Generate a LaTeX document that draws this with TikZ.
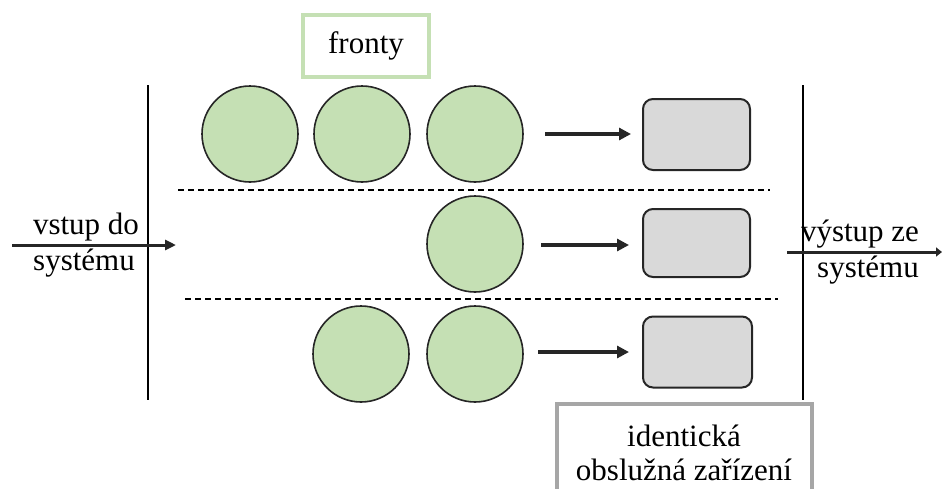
\documentclass[tikz,border=0pt]{standalone}
\usepackage{fontspec}
\setmainfont{Liberation Serif}
\usetikzlibrary{arrows.meta}
\definecolor{qgreen}{HTML}{C5E0B4}
\definecolor{qgray}{HTML}{D9D9D9}
\definecolor{qframe}{HTML}{A6A6A6}
\definecolor{qdark}{HTML}{262626}
\begin{document}
\begin{tikzpicture}[x=1pt,y=-1pt,
  cust/.style={circle,draw=qdark,line width=1.6pt,fill=qgreen,minimum size=96pt,inner sep=0pt},
  server/.style={rectangle,rounded corners=10pt,draw=qdark,line width=2pt,fill=qgray,minimum width=107pt,minimum height=71pt,inner sep=0pt},
  flow/.style={line width=3.6pt,draw=qdark,-{Triangle[length=12pt,width=12pt]}},
  sysarrow/.style={line width=3pt,draw=qdark,-{Triangle[length=11pt,width=10pt]}},
  sep/.style={line width=1.8pt,dash pattern=on 6pt off 4pt},
  bound/.style={line width=2pt,draw=black},
  lbl/.style={font=\fontsize{31}{35}\selectfont,align=center,inner sep=0pt}
]
\useasboundingbox (0,0) rectangle (942,488);
% boundaries
\coordinate (bl1) at (148,85); \coordinate (bl2) at (148,400);
\coordinate (br1) at (803,85); \coordinate (br2) at (803,400);
\draw[bound] (bl1) -- (bl2);
\draw[bound] (br1) -- (br2);
% dashed separators
\coordinate (d1a) at (178,190); \coordinate (d1b) at (770,190);
\coordinate (d2a) at (185,299); \coordinate (d2b) at (778,299);
\draw[sep] (d1a) -- (d1b);
\draw[sep] (d2a) -- (d2b);
% customers
\node[cust] (c11) at (250,134) {};
\node[cust] (c12) at (362,134) {};
\node[cust] (c13) at (475,134) {};
\node[cust] (c23) at (475,244) {};
\node[cust] (c32) at (361,354) {};
\node[cust] (c33) at (475,354) {};
% servers
\node[server] (s1) at (696.5,134.5) {};
\node[server, minimum height=68pt] (s2) at (696.5,243) {};
\node[server, minimum width=109pt] (s3) at (697.5,352) {};
% flow arrows
\coordinate (a1) at (545,134); \coordinate (a1e) at (631,134);
\coordinate (a2) at (541,245); \coordinate (a2e) at (629,245);
\coordinate (a3) at (538,352); \coordinate (a3e) at (629,352);
\draw[flow] (a1) -- (a1e);
\draw[flow] (a2) -- (a2e);
\draw[flow] (a3) -- (a3e);
% system in/out
\coordinate (in1) at (12,245); \coordinate (in2) at (176,245);
\coordinate (out1) at (787,252); \coordinate (out2) at (942,252);
\draw[sysarrow] (in1) -- (in2);
\draw[line width=3pt,draw=qdark,-{Triangle[length=6pt,width=9pt]}] (out1) -- (out2);
\node[lbl] (tin1) at (86,227) {vstup do};
\node[lbl] (tin2) at (84,263) {systému};
\node[lbl] (tout1) at (860,234) {výstup ze};
\node[lbl] (tout2) at (868,270) {systému};
% label boxes
\node[draw=qgreen,line width=3.5pt,minimum width=126pt,minimum height=62pt,lbl] (fronty) at (366,46) {fronty};
\draw[draw=qframe,line width=3.5pt] (557,495) -- (557,404) -- (812,404) -- (812,495);
\node[lbl] (ident) at (684,453) {identická\\[-1pt]obslužná zařízení};
\end{tikzpicture}
\end{document}
